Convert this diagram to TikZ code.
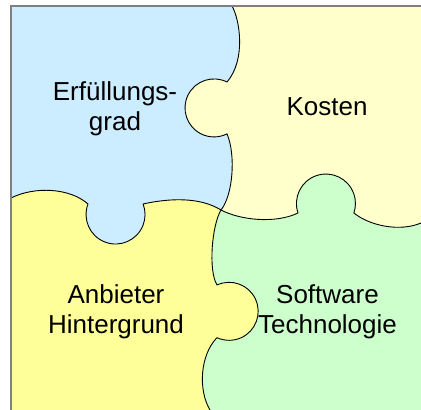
\documentclass[tikz,border=0pt]{standalone}
\usepackage{fontspec}
\setmainfont{Liberation Sans}
\definecolor{pblue}{RGB}{204,236,255}
\definecolor{plight}{RGB}{255,255,204}
\definecolor{pyellow}{RGB}{255,255,153}
\definecolor{pgreen}{RGB}{204,255,204}
\begin{document}
\begin{tikzpicture}[x=1pt,y=1pt,
  seam/.style={draw=black,line width=0.9pt,line join=round},
  frameline/.style={draw=gray,line width=1.6pt},
  ptext/.style={font=\fontsize{26}{29.5}\selectfont,align=center,text=black,inner sep=0pt}]
\useasboundingbox (0,0) rectangle (421,410);
\def\LRpath{(11,212) .. controls (35,224) and (70,222) .. (88,206) arc[start angle=159.1,end angle=380.9,radius=29.5] .. controls (170,212) and (200,213) .. (221,200) .. controls (240,190) and (275,186) .. (298,197) arc[start angle=198.7,end angle=-18.7,radius=29.5] .. controls (370,184) and (400,178) .. (421,187)}
\def\TBpath{(232,404) .. controls (240,390) and (246,350) .. (227,328) arc[start angle=63.4,end angle=296.6,radius=29] .. controls (236,255) and (233,215) .. (221,200) .. controls (212,185) and (208,140) .. (217,125) arc[start angle=114.8,end angle=-114.8,radius=29] .. controls (200,55) and (198,20) .. (210,0)}
\fill[pgreen] (11,0) rectangle (421,404);
\fill[plight] \LRpath -- (421,404) -- (11,404) -- cycle;
\begin{scope}
\clip \TBpath -- (11,0) -- (11,404) -- cycle;
\fill[pyellow] (11,0) rectangle (421,404);
\fill[pblue] \LRpath -- (421,404) -- (11,404) -- cycle;
\end{scope}
\draw[seam] \LRpath;
\draw[seam] \TBpath;
\draw[frameline] (11,0) -- (11,404) -- (421,404);
\node[ptext] (erf) at (115,301) {Erfüllungs-\\grad};
\node[ptext] (kos) at (327,303) {Kosten};
\node[ptext] (anb) at (116,98) {Anbieter\\Hintergrund};
\node[ptext] (sof) at (327.5,98) {Software\\Technologie};
\end{tikzpicture}
\end{document}
